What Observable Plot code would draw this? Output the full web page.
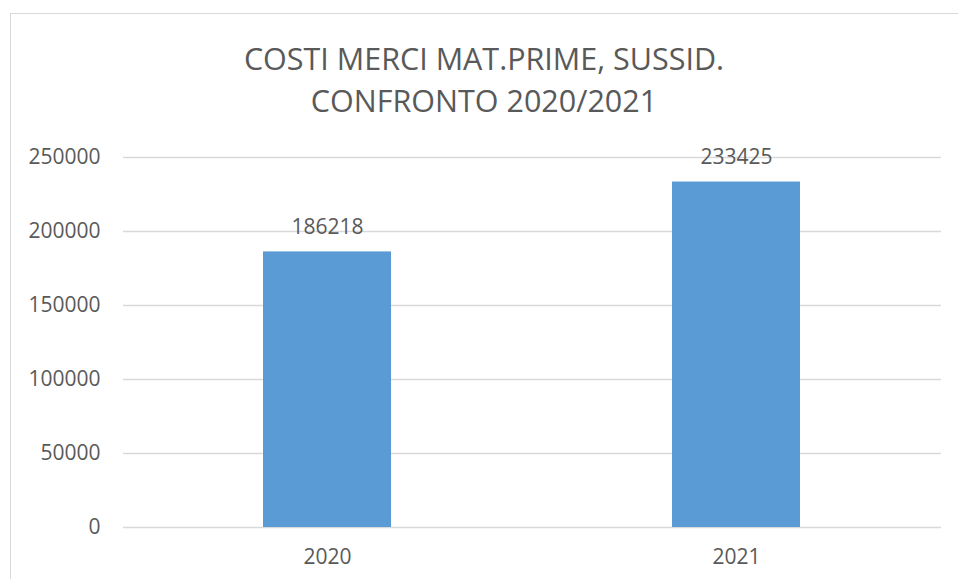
<!DOCTYPE html>
<html>
<head>
<meta charset="utf-8">
<script src="https://cdn.jsdelivr.net/npm/d3@7"></script>
<script src="https://cdn.jsdelivr.net/npm/@observablehq/plot@0.6"></script>
<style>
  html, body { margin: 0; padding: 0; background: #fff; overflow: hidden; }
  body { width: 958px; height: 579px; position: relative; font-family: "Open Sans", sans-serif; }
  #frame { position: absolute; left: 10px; top: 13px; width: 1000px; height: 700px; border: 1.5px solid #d9d9d9; box-sizing: border-box; }
  #title { position: absolute; left: 0; top: 37px; width: 968px; text-align: center; font-size: 30.5px; line-height: 42px; color: #595959; white-space: nowrap; }
  #chart { position: absolute; left: 0; top: 130px; }
</style>
</head>
<body>
<div id="frame"></div>
<div id="title">COSTI MERCI MAT.PRIME, SUSSID.<br>CONFRONTO 2020/2021</div>
<div id="chart"></div>
<script>
const categories = ["2020", "2021"];
const values = [186218, 233425];
const yTicks = [0, 50000, 100000, 150000, 200000, 250000];

const data = categories.map((c, i) => ({year: c, value: values[i]}));

const chart = Plot.plot({
  width: 958,
  height: 449,
  marginTop: 27,
  marginBottom: 52,
  marginLeft: 123,
  marginRight: 17,
  style: {fontFamily: "Open Sans, sans-serif", fontSize: "21px", color: "#595959", background: "transparent"},
  x: {domain: categories, paddingInner: 0.687, paddingOuter: 0.3435, label: null},
  y: {domain: [0, 250000], label: null},
  marks: [
    Plot.ruleY(yTicks, {stroke: "#d9d9d9", strokeWidth: 1.5, strokeOpacity: 1}),
    Plot.barY(data, {x: "year", y: "value", fill: "#5B9BD5"}),
    Plot.text(data, {x: "year", y: "value", text: d => String(d.value), dy: -25, fill: "#595959", fontSize: 21}),
    Plot.axisY(yTicks, {tickSize: 0, tickPadding: 23, tickFormat: d => String(d), fill: "#595959", label: null}),
    Plot.axisX({tickSize: 0, tickPadding: 22, fill: "#595959", label: null})
  ]
});
document.getElementById("chart").appendChild(chart);
</script>
</body>
</html>
